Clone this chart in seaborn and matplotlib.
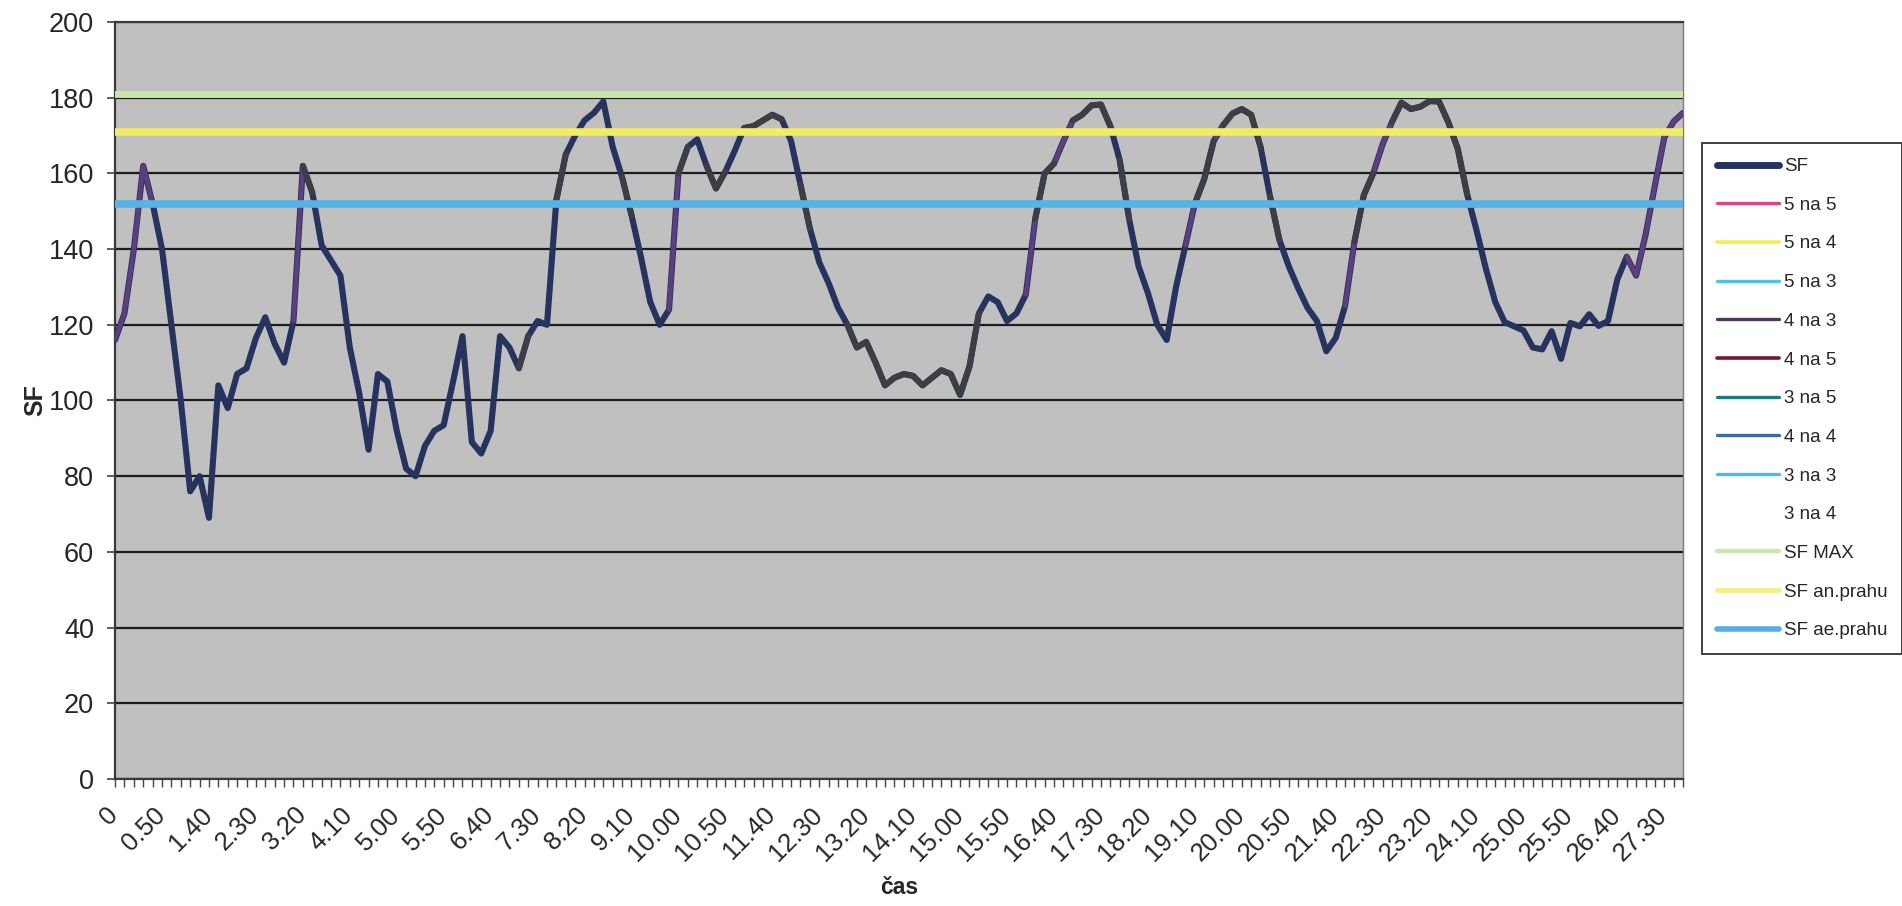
import numpy as np
import pandas as pd
import matplotlib
matplotlib.use("Agg")
import matplotlib.pyplot as plt
from matplotlib.lines import Line2D
from matplotlib.ticker import MultipleLocator
from matplotlib.transforms import ScaledTranslation
import seaborn as sns

# ---- data (SF every 10 s) ----
sf = [116, 123, 140, 162, 152, 140, 120, 100, 76, 80,
      69, 104, 98, 107, 108.5, 116.5, 122, 115, 110, 121,
      162, 155, 141, 137, 133, 114, 102, 87, 107, 105,
      92, 82, 80, 88, 92, 93.5, 105, 117, 89, 86,
      92, 117, 114, 108.5, 117, 121, 120, 153, 165, 170,
      174, 176, 179, 167, 159, 149, 138, 126, 120, 124,
      160, 167, 169, 162, 156, 160.5, 166, 172, 172.5, 174,
      175.5, 174.3, 168.5, 157, 145.5, 136.5, 131, 124.5, 120, 114,
      115.5, 110, 104, 106, 107, 106.5, 104, 106, 108, 107,
      101.5, 109, 123, 127.5, 126, 121, 123, 128, 148, 160,
      162.6, 168.5, 174, 175.5, 178, 178.2, 172.5, 163.5, 148, 135.5,
      128.4, 120, 116, 130, 141, 152, 158.5, 168.5, 172.7, 175.8,
      177, 175.5, 167, 154, 142.5, 135.5, 129.7, 124.5, 121, 113,
      116.5, 125, 142, 154.3, 160, 167.7, 173.6, 178.7, 177, 177.6,
      179.1, 179, 173.5, 166.5, 154.5, 145, 134.8, 126, 120.7, 119.6,
      118.5, 114, 113.5, 118.3, 111, 120.5, 119.6, 122.8, 119.7, 121,
      132, 138, 133, 143.7, 156.8, 169.5, 173.7, 176]

tick_labels = ["0", "0.50", "1.40", "2.30", "3.20", "4.10", "5.00", "5.50",
               "6.40", "7.30", "8.20", "9.10", "10.00", "10.50", "11.40",
               "12.30", "13.20", "14.10", "15.00", "15.50", "16.40", "17.30",
               "18.20", "19.10", "20.00", "20.50", "21.40", "22.30", "23.20",
               "24.10", "25.00", "25.50", "26.40", "27.30"]

sf_max = 181
sf_an_prahu = 171
sf_ae_prahu = 152

# sample ranges of SF that belong to the overlaid zone series
range_4na3 = [(0, 4), (19, 20), (59, 60), (97, 98), (100, 102), (114, 115),
              (117, 118), (131, 132), (134, 136), (161, 167)]
range_3na4 = [(20, 21), (43, 44), (47, 48), (54, 55), (60, 61), (63, 65),
              (67, 71), (73, 74), (78, 92), (98, 100), (102, 106), (107, 108),
              (115, 117), (118, 122), (123, 124), (132, 134), (136, 144)]

legend_labels = ["SF", "5 na 5", "5 na 4", "5 na 3", "4 na 3", "4 na 5",
                 "3 na 5", "4 na 4", "3 na 3", "3 na 4", "SF MAX",
                 "SF an.prahu", "SF ae.prahu"]
legend_colors = ["#26335F", "#E2457E", "#F2EE50", "#4CC3E8", "#4E3A5E",
                 "#7A1230", "#1F7B7B", "#3C6BA8", "#45BDF0", "#FFFFFF",
                 "#CBE6AE", "#F5EF7C", "#55AEE6"]
legend_widths = [5.0, 2.4, 2.6, 2.4, 2.4, 2.6, 2.4, 2.4, 2.4, 2.4, 3.2, 3.4, 4.0]

# ---- style ----
sns.set_style("white")
plt.rcParams['font.family'] = ['Liberation Sans', 'DejaVu Sans']

fig = plt.figure(figsize=(19.02, 9.06), dpi=100)
ax = fig.add_axes([0.0605, 0.1402, 0.8244, 0.8355])
ax.set_facecolor('#C0C0C0')

n = len(sf)
df = pd.DataFrame({'i': np.arange(n), 'SF': sf})

sns.lineplot(data=df, x='i', y='SF', ax=ax, color='#26335F', linewidth=4.4,
             sort=False, estimator=None, legend=False, zorder=3)
for a, b in range_4na3:
    sub = df.iloc[a:b + 1]
    sns.lineplot(data=sub, x='i', y='SF', ax=ax, color='#5E3E7E', linewidth=3.2,
                 sort=False, estimator=None, legend=False, zorder=4)
for a, b in range_3na4:
    sub = df.iloc[a:b + 1]
    sns.lineplot(data=sub, x='i', y='SF', ax=ax, color='#3D3E44', linewidth=4.2,
                 sort=False, estimator=None, legend=False, zorder=4)

for val, col, lw in [(sf_max, '#C8E6A8', 5.0), (sf_an_prahu, '#F2EC62', 5.5),
                     (sf_ae_prahu, '#58B2E6', 5.5)]:
    ref = pd.DataFrame({'i': [0, n - 1], 'v': [val, val]})
    sns.lineplot(data=ref, x='i', y='v', ax=ax, color=col, linewidth=lw,
                 sort=False, estimator=None, legend=False, zorder=5)

ax.set_xlim(0, n - 1)
ax.set_ylim(0, 200)
ax.yaxis.set_major_locator(MultipleLocator(20))
ax.yaxis.grid(True, color='#1c1c1c', linewidth=1.6)
ax.xaxis.grid(False)
ax.set_axisbelow(True)

ax.set_xticks(np.arange(0, 5 * len(tick_labels), 5))
ax.set_xticklabels(tick_labels, rotation=45, ha='right', rotation_mode='anchor',
                   fontsize=18.5, color='#262626')
ax.xaxis.set_minor_locator(MultipleLocator(1))
ax.tick_params(axis='x', which='both', bottom=True, direction='out', length=6,
               width=1, color='#444444', pad=11)
ax.tick_params(axis='y', which='major', left=True, direction='out', length=6,
               width=1.2, color='#444444', labelsize=19.5, labelcolor='#262626', pad=9)
offset = ScaledTranslation(-9 / 100, 0, fig.dpi_scale_trans)
for lab in ax.get_xticklabels():
    lab.set_transform(lab.get_transform() + offset)

for side in ['left', 'bottom', 'top']:
    ax.spines[side].set_color('#3a3a3a')
    ax.spines[side].set_linewidth(1.6)
ax.spines['right'].set_color('#7a7a7a')
ax.spines['right'].set_linewidth(1.0)

ax.set_ylabel('SF', fontsize=18, fontweight='bold', color='#262626')
ax.yaxis.set_label_coords(-0.043, 0.5)
ax.set_xlabel('čas', fontsize=16.5, fontweight='bold', color='#262626')
ax.xaxis.set_label_coords(0.5, -0.128)

handles = [Line2D([0], [0], color=c, linewidth=w) for c, w in zip(legend_colors, legend_widths)]
leg = fig.legend(handles, legend_labels, loc='upper left',
                 bbox_to_anchor=(0.8949, 0.8422), borderaxespad=0.0,
                 frameon=True, fancybox=False,
                 edgecolor='black', fontsize=13.5, handlelength=3.3,
                 handletextpad=0.25, labelspacing=1.15, borderpad=0.8)
leg.get_frame().set_linewidth(1.3)
for t in leg.get_texts():
    t.set_color('#262626')

fig.savefig('out.png', dpi=100)
